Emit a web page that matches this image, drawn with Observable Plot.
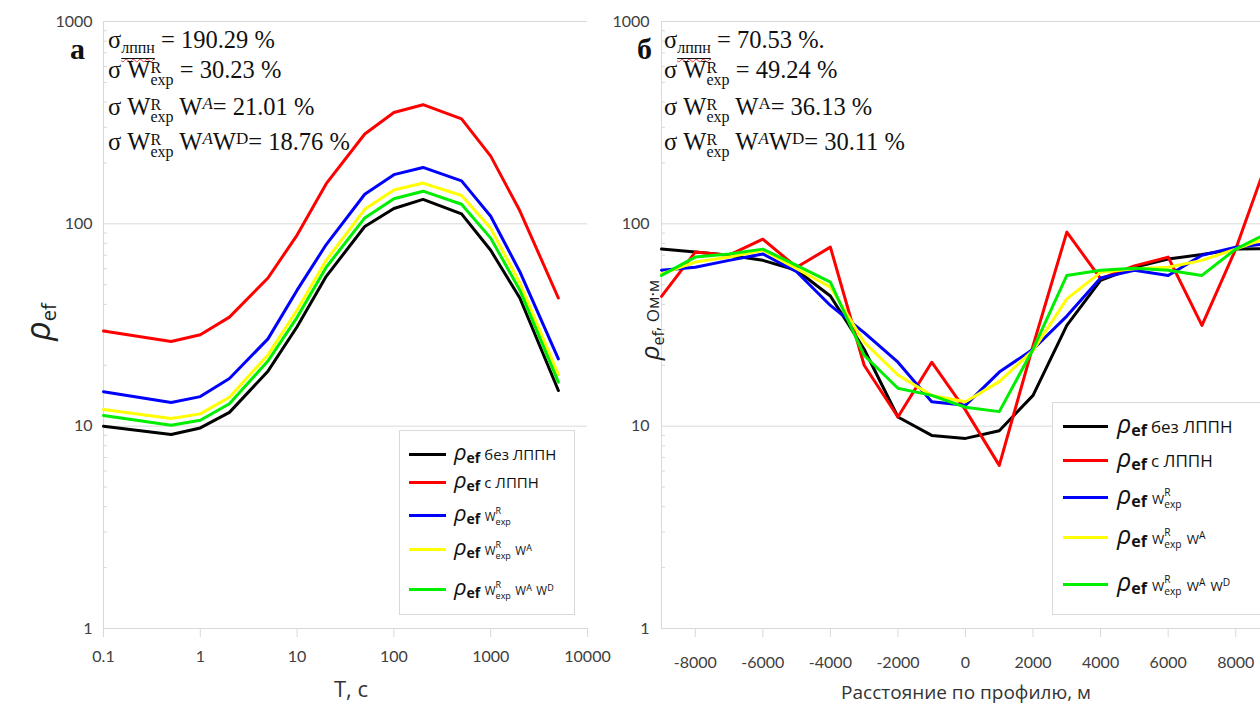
<!DOCTYPE html>
<html><head><meta charset="utf-8">
<script src="https://cdn.jsdelivr.net/npm/d3@7"></script>
<script src="https://cdn.jsdelivr.net/npm/@observablehq/plot@0.6"></script>
<style>
body{margin:0;background:#fff;}
#wrap{position:relative;width:1260px;height:704px;overflow:hidden;background:#fff;}
.pl{position:absolute;top:0;}
.ann{position:absolute;font-family:"Liberation Serif","Times New Roman",serif;font-size:24.5px;color:#111;white-space:nowrap;line-height:24px;height:24px;}
.stk{display:inline-block;position:relative;line-height:normal;}
.stk .u{position:absolute;left:0;}
.stk .d{position:relative;}
.wavy{text-decoration:underline wavy #e03030;text-decoration-thickness:1px;text-underline-offset:5px;}
.ul{text-decoration:underline;}
.big{position:absolute;font-family:"Liberation Serif",serif;font-weight:bold;color:#111;line-height:30px;}
.lg{position:absolute;background:#fff;border:1px solid #d9d9d9;box-sizing:border-box;}
.row{position:absolute;display:flex;align-items:center;white-space:nowrap;font-family:"Open Sans",sans-serif;color:#111;}
.sw{display:inline-block;height:3px;}
.rho{font-family:"Open Sans",sans-serif;font-style:italic;}
.ef{font-weight:bold;vertical-align:-3px;}
.ytitle{position:absolute;transform:translate(-50%,-50%) rotate(-90deg);white-space:nowrap;font-family:"Open Sans",sans-serif;color:#222;}
.xtitle{position:absolute;transform:translate(-50%,-50%);white-space:nowrap;font-family:"Open Sans",sans-serif;color:#333;}
</style></head>
<body>
<div id="wrap"></div>
<script>
// ---------- data ----------
const seriesNames = ["без ЛППН", "с ЛППН", "W exp R", "W exp R W A", "W exp R W A W D"];
const seriesColors = ["#000000", "#ff0000", "#0000ff", "#ffff00", "#00ee00"];

// Panel a: period T, s
const periodT = [0.1, 0.5, 1, 2, 5, 10, 20, 50, 100, 200, 500, 1000, 2000, 5000];
const leftBlack  = [10.0, 9.1, 9.8, 11.7, 18.7, 31, 55, 97, 119, 132, 112, 74, 43, 15.0];
const leftRed    = [29.5, 26.2, 28.3, 34.6, 54, 88, 158, 278, 355, 388, 330, 216, 116, 43];
const leftBlue   = [14.8, 13.1, 14.0, 17.2, 27, 47, 79, 140, 175, 190, 163, 109, 58, 21.5];
const leftYellow = [12.1, 10.9, 11.5, 13.9, 22.5, 37.5, 66, 118, 147, 159, 138, 95, 51, 18.0];
const leftGreen  = [11.3, 10.1, 10.7, 12.9, 21, 34.5, 61, 107, 133, 145, 125, 85, 47, 16.5];

// Panel б: distance along profile, m
const distance = [-9000, -8000, -7000, -6000, -5000, -4000, -3000, -2000, -1000, 0, 1000, 2000, 3000, 4000, 5000, 6000, 7000, 8000, 9000];
const rightBlack  = [75, 72.5, 70, 66, 59, 44, 24, 11.1, 9.0, 8.7, 9.5, 14.2, 31.5, 52.5, 61, 67, 70.5, 75, 75.5];
const rightRed    = [43.8, 72.5, 70, 84, 61, 76.7, 20, 11.1, 20.7, 12, 6.4, 25, 91, 53.6, 62, 68.5, 31.5, 75, 220];
const rightBlue   = [59, 61, 66, 71, 58, 39.5, 29, 20.7, 13.2, 12.7, 18.5, 24, 35, 54, 59, 55.6, 70, 76.7, 80];
const rightYellow = [56.6, 64.7, 68.5, 74, 60, 48.7, 26, 17.9, 14.2, 13.2, 16.6, 23.7, 42.6, 57.6, 60, 61, 66, 75, 86];
const rightGreen  = [55.6, 68.5, 71, 75, 62.3, 51.5, 22.4, 15.4, 14.2, 12.4, 11.8, 24, 55.6, 59, 60.4, 59, 55.6, 75, 91];

// ticks
const yTicks = [1, 10, 100, 1000];
const xTicksLeft = [0.1, 1, 10, 100, 1000, 10000];
const xTicksRight = [-8000, -6000, -4000, -2000, 0, 2000, 4000, 6000, 8000];
const yMinor = [2,3,4,5,6,7,8,9,20,30,40,50,60,70,80,90,200,300,400,500,600,700,800,900];

// annotation values
const annLeft = ["190.29 %", "30.23 %", "21.01 %", "18.76 %"];
const annRight = ["70.53 %.", "49.24 %", "36.13 %", "30.11 %"];

// ---------- build tables ----------
const leftSeries = [leftBlack, leftRed, leftBlue, leftYellow, leftGreen];
const rightSeries = [rightBlack, rightRed, rightBlue, rightYellow, rightGreen];
const leftData = leftSeries.flatMap((arr, k) => periodT.map((t, i) => ({x: t, y: arr[i], s: seriesNames[k]})));
const rightData = rightSeries.flatMap((arr, k) => distance.map((t, i) => ({x: t, y: arr[i], s: seriesNames[k]})));

const colorScale = {domain: seriesNames, range: seriesColors};
const gridC = "#d9d9d9";
const txtC = "#404040";

const left = Plot.plot({
  width: 620, height: 704,
  marginLeft: 103, marginRight: 33, marginTop: 21, marginBottom: 76,
  x: {type: "log", domain: [0.1, 10000], label: null},
  y: {type: "log", domain: [1, 1000], label: null},
  color: colorScale,
  style: {fontFamily: "Lato, 'Open Sans', sans-serif", fontSize: "16px", background: "transparent", overflow: "visible"},
  marks: [
    Plot.ruleY([10, 100, 1000], {stroke: gridC}),
    Plot.ruleY([1], {stroke: gridC}),
    Plot.ruleX([0.1], {stroke: gridC}),
    Plot.axisY(yMinor, {tickSize: 4, dx: 4, tickFormat: () => "", stroke: gridC, label: null}),
    Plot.axisY(yTicks, {tickSize: 0, tickPadding: 11, tickFormat: d => String(d), fill: txtC, label: null}),
    Plot.axisX(xTicksLeft, {tickSize: 9, tickPadding: 13, tickFormat: d => String(d), stroke: gridC, fill: txtC, label: null}),
    Plot.line(leftData, {x: "x", y: "y", z: "s", stroke: "s", strokeWidth: 3, strokeLinejoin: "round"})
  ]
});

const right = Plot.plot({
  width: 700, height: 704,
  marginLeft: 61, marginRight: 31, marginTop: 21, marginBottom: 76,
  x: {domain: [-9000, 9000], label: null},
  y: {type: "log", domain: [1, 1000], label: null},
  color: colorScale,
  style: {fontFamily: "Lato, 'Open Sans', sans-serif", fontSize: "16px", background: "transparent", overflow: "visible"},
  marks: [
    Plot.ruleY([10, 100, 1000], {stroke: gridC}),
    Plot.ruleY([1], {stroke: gridC}),
    Plot.ruleX([-9000], {stroke: gridC}),
    Plot.axisY(yMinor, {tickSize: 4, dx: 4, tickFormat: () => "", stroke: gridC, label: null}),
    Plot.axisY(yTicks, {tickSize: 0, tickPadding: 12, tickFormat: d => String(d), fill: txtC, label: null}),
    Plot.axisX(xTicksRight, {tickSize: 9, tickPadding: 19, tickFormat: d => String(d), stroke: gridC, fill: txtC, label: null}),
    Plot.line(rightData, {x: "x", y: "y", z: "s", stroke: "s", strokeWidth: 3, strokeLinejoin: "round"})
  ]
});

const wrap = document.getElementById("wrap");
left.classList.add("pl"); left.style.left = "0px";
right.classList.add("pl"); right.style.left = "600px";
wrap.appendChild(left);
wrap.appendChild(right);

// ---------- annotations, legends, titles (HTML text) ----------
const stack = (sup, sub, fs, up, down) =>
  `<span class="stk" style="font-size:${fs}px"><span class="u" style="top:${-up}px">${sup}</span><span class="d" style="top:${down}px">${sub}</span></span>`;
const sups = (c, fs, raise) => `<span style="font-size:${fs}px;vertical-align:${raise}px">${c}</span>`;

function annBlock(x, vals, italicA3) {
  const WR = `W${stack("R", "exp", 16, 5, 7)}`;
  const lines = [
    `σ<span style="font-size:16px;vertical-align:-5px"><span class="wavy"><span class="ul">лппн</span></span></span> = ${vals[0]}`,
    `σ ${WR} = ${vals[1]}`,
    `σ ${WR} W${sups(italicA3 ? "<i>A</i>" : "A", 17, 6)}= ${vals[2]}`,
    `σ ${WR} W${sups("<i>A</i>", 17, 6)}W${sups("D", 17, 6)}= ${vals[3]}`
  ];
  const baselines = [48, 78, 112, 147];
  return lines.map((h, i) => `<div class="ann" style="left:${x}px;top:${baselines[i] - 20}px">${h}</div>`).join("");
}

function legendLabel(k, fs) {
  const wf = fs * 0.78, sf = fs * 0.6;
  const ws = `<span style="font-size:${wf}px;margin-left:${fs*0.3}px">W</span>` + stack("R", "exp", sf, fs * 0.45, fs * 0.28);
  const sup = (c) => `<span style="font-size:${wf}px;margin-left:${fs*0.3}px">W</span>` + sups(c, sf, fs * 0.3);
  const parts = [
    `<span style="font-size:${fs}px;margin-left:4px">без ЛППН</span>`,
    `<span style="font-size:${fs}px;margin-left:4px">с ЛППН</span>`,
    ws,
    ws + sup("A"),
    ws + sup("A") + sup("D")
  ];
  return parts[k];
}
function legend(x, y, w, h, rows, swLeft, swW, rhoFs, efFs, fs) {
  let html = `<div class="lg" style="left:${x}px;top:${y}px;width:${w}px;height:${h}px">`;
  rows.forEach((cy, k) => {
    html += `<div class="row" style="left:${swLeft}px;top:${cy - 16}px;height:32px">` +
      `<span class="sw" style="width:${swW}px;background:${seriesColors[k]}"></span>` +
      `<span style="margin-left:${swLeft - 1}px;line-height:32px">` +
      `<span class="rho" style="font-size:${rhoFs}px">ρ</span>` +
      `<span class="ef" style="font-size:${efFs}px">ef</span>` + legendLabel(k, fs) + `</span></div>`;
  });
  return html + `</div>`;
}

wrap.insertAdjacentHTML("beforeend",
  annBlock(108, annLeft, true) + annBlock(664, annRight, false) +
  `<div class="big" style="left:70px;top:34px;font-size:30px">а</div>` +
  `<div class="big" style="left:637px;top:34px;font-size:30px">б</div>` +
  legend(399, 430, 176, 185, [23, 51, 84, 118, 158], 9, 37, 22, 14, 15) +
  legend(1052, 402, 250, 213, [23, 57, 94, 134, 181], 10, 45, 25, 16, 17) +
  `<div class="ytitle" style="left:38px;top:322px"><span class="rho" style="font-size:34px">ρ</span><span style="font-size:20px;vertical-align:-6px">ef</span></div>` +
  `<div class="ytitle" style="left:650px;top:320px;font-size:17px"><span class="rho" style="font-size:26px">ρ</span><span style="font-size:16px;vertical-align:-5px">ef</span>, Ом·м</div>` +
  `<div class="xtitle" style="left:351px;top:688px;font-size:22px">T, с</div>` +
  `<div class="xtitle" style="left:966px;top:692px;font-size:19px">Расстояние по профилю, м</div>`
);
</script>
</body></html>
